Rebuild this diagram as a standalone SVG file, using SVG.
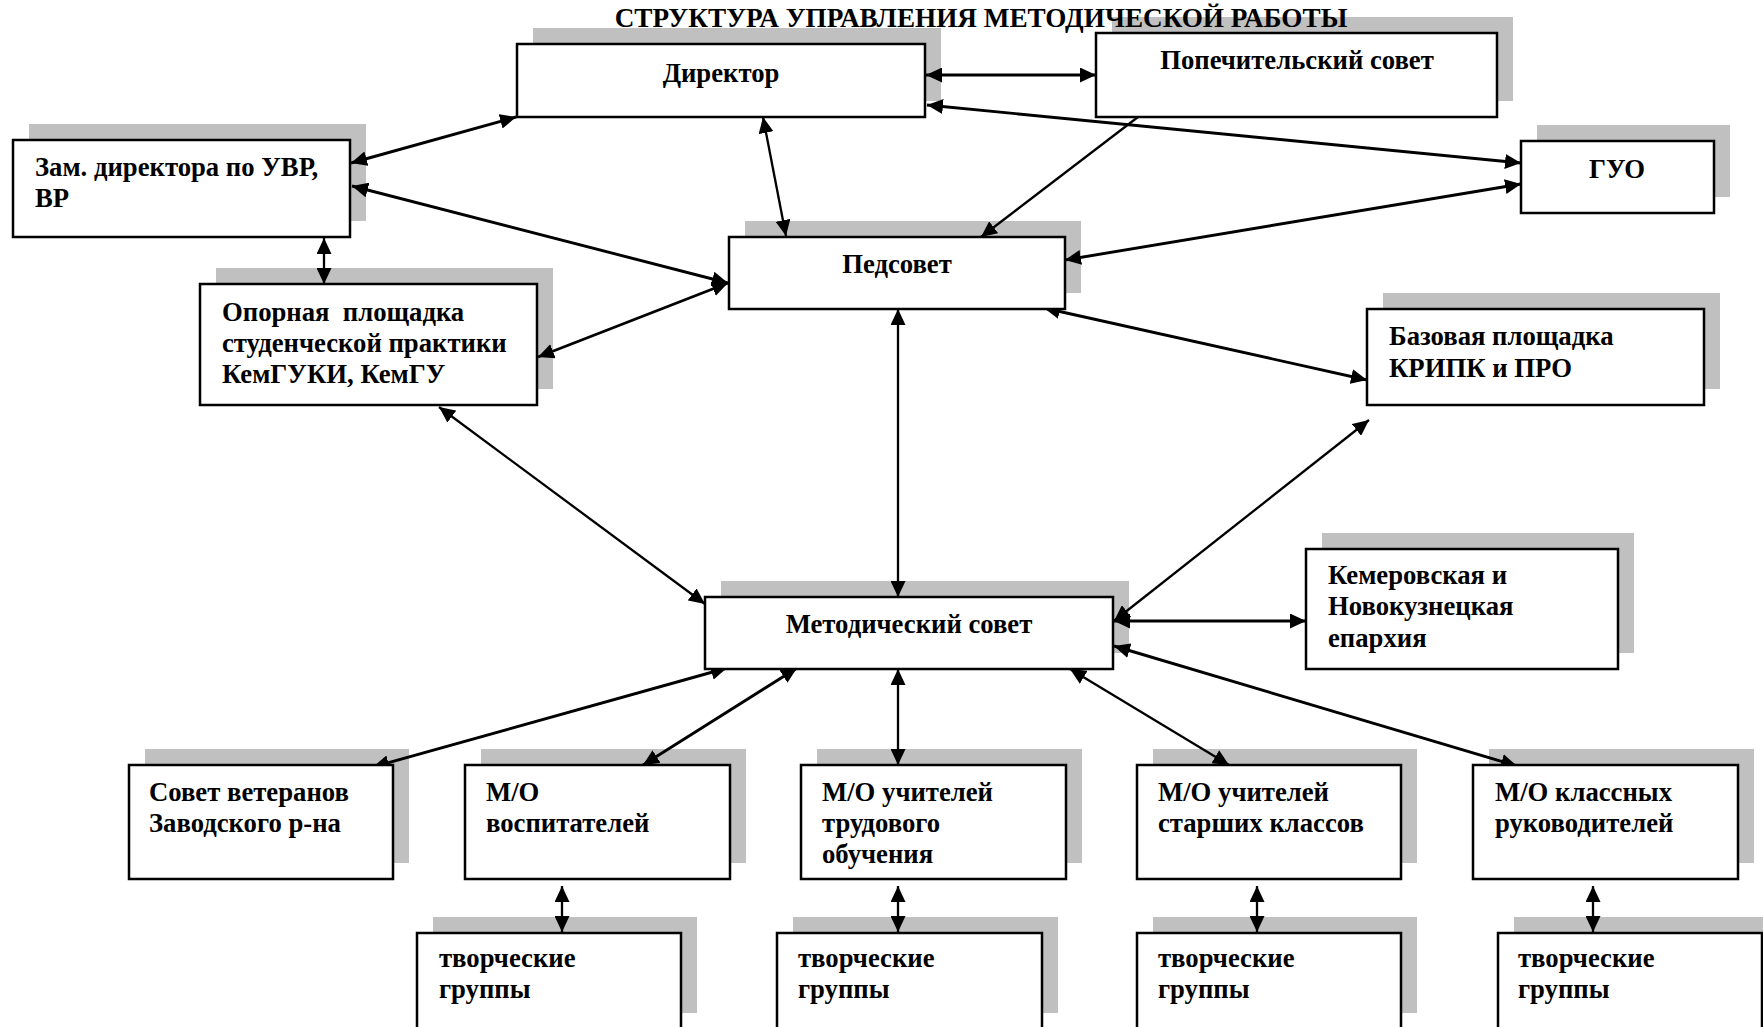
<svg xmlns="http://www.w3.org/2000/svg" width="1763" height="1027" viewBox="0 0 1763 1027">
<defs>
<marker id="ah" markerUnits="userSpaceOnUse" markerWidth="17" markerHeight="15" refX="16" refY="7.5" orient="auto-start-reverse" viewBox="0 0 17 15">
<path d="M0,0 L16,7.5 L0,15 z" fill="#000"/>
</marker>
<style>
.sh{fill:#c0c0c0;stroke:none}
.bx{fill:#fff;stroke:#000;stroke-width:2.5}
.t{font-family:"Liberation Serif","Times New Roman",serif;font-weight:bold;font-size:26.7px;fill:#000}
.c{text-anchor:middle}
.ln{stroke:#000;stroke-width:2.9;fill:none;marker-start:url(#ah);marker-end:url(#ah)}
.th{stroke-width:2.3}
.one{stroke:#000;stroke-width:2.3;fill:none;marker-end:url(#ah)}
</style>
</defs>
<rect width="1763" height="1027" fill="#fff"/>

<g id="shadows">
<rect class="sh" x="533" y="28" width="408" height="73"/>
<rect class="sh" x="1112" y="17" width="401" height="84"/>
<rect class="sh" x="1537" y="125" width="193" height="72"/>
<rect class="sh" x="29" y="124" width="337" height="97"/>
<rect class="sh" x="745" y="221" width="336" height="72"/>
<rect class="sh" x="216" y="268" width="337" height="121"/>
<rect class="sh" x="1383" y="293" width="337" height="96"/>
<rect class="sh" x="721" y="581" width="408" height="72"/>
<rect class="sh" x="1322" y="533" width="312" height="120"/>
<rect class="sh" x="145" y="749" width="264" height="114"/>
<rect class="sh" x="481" y="749" width="265" height="114"/>
<rect class="sh" x="817" y="749" width="265" height="114"/>
<rect class="sh" x="1153" y="749" width="264" height="114"/>
<rect class="sh" x="1489" y="749" width="265" height="114"/>
<rect class="sh" x="433" y="917" width="264" height="96"/>
<rect class="sh" x="793" y="917" width="265" height="96"/>
<rect class="sh" x="1153" y="917" width="264" height="96"/>
<rect class="sh" x="1514" y="917" width="264" height="96"/>
</g>

<g id="connectors">
<line class="ln" x1="351" y1="163" x2="516" y2="117"/>
<line class="ln" x1="352" y1="186" x2="728" y2="283"/>
<line class="ln th" x1="763" y1="117" x2="786" y2="236"/>
<line class="ln" x1="926" y1="75" x2="1096" y2="75"/>
<line class="ln" x1="927" y1="105" x2="1521" y2="163"/>
<line class="one" x1="1138" y1="117" x2="981" y2="237"/>
<line class="ln" x1="1065" y1="260" x2="1521" y2="184"/>
<line class="ln th" x1="324" y1="238" x2="324" y2="284"/>
<line class="ln" x1="538" y1="357" x2="728" y2="283"/>
<line class="ln th" x1="439" y1="407" x2="705" y2="604"/>
<line class="ln th" x1="898" y1="309" x2="898" y2="597"/>
<line class="ln" x1="1044" y1="308" x2="1367" y2="380"/>
<line class="ln th" x1="1114" y1="621" x2="1369" y2="420"/>
<line class="ln" x1="1114" y1="621" x2="1306" y2="621"/>
<line class="ln" x1="1114" y1="646" x2="1517" y2="766"/>
<line class="ln th" x1="1070" y1="669" x2="1229" y2="765"/>
<line class="ln th" x1="898" y1="669" x2="898" y2="765"/>
<line class="ln" x1="797" y1="668" x2="643" y2="765"/>
<line class="ln" x1="727" y1="668" x2="373" y2="767"/>
<line class="ln th" x1="562" y1="886" x2="562" y2="932"/>
<line class="ln th" x1="898" y1="886" x2="898" y2="932"/>
<line class="ln th" x1="1257" y1="886" x2="1257" y2="932"/>
<line class="ln th" x1="1593" y1="886" x2="1593" y2="932"/>
</g>

<g id="director"><rect class="bx" x="517" y="44" width="408" height="73"/><text class="t c" x="721" y="82">Директор</text></g>
<g id="popechitelsky"><rect class="bx" x="1096" y="33" width="401" height="84"/><text class="t c" x="1297" y="69">Попечительский совет</text></g>
<g id="guo"><rect class="bx" x="1521" y="141" width="193" height="72"/><text class="t c" x="1617" y="178">ГУО</text></g>
<g id="zam"><rect class="bx" x="13" y="140" width="337" height="97"/><text class="t" x="35" y="176">Зам. директора по УВР,</text><text class="t" x="35" y="207">ВР</text></g>
<g id="pedsovet"><rect class="bx" x="729" y="237" width="336" height="72"/><text class="t c" x="897" y="273">Педсовет</text></g>
<g id="opornaya"><rect class="bx" x="200" y="284" width="337" height="121"/><text class="t" x="222" y="321" xml:space="preserve">Опорная  площадка</text><text class="t" x="222" y="352">студенческой практики</text><text class="t" x="222" y="383">КемГУКИ, КемГУ</text></g>
<g id="bazovaya"><rect class="bx" x="1367" y="309" width="337" height="96"/><text class="t" x="1389" y="345">Базовая площадка</text><text class="t" x="1389" y="377">КРИПК и ПРО</text></g>
<g id="metodsovet"><rect class="bx" x="705" y="597" width="408" height="72"/><text class="t c" x="909" y="633">Методический совет</text></g>
<g id="eparhiya"><rect class="bx" x="1306" y="549" width="312" height="120"/><text class="t" x="1328" y="584">Кемеровская и</text><text class="t" x="1328" y="615">Новокузнецкая</text><text class="t" x="1328" y="647">епархия</text></g>
<g id="veterany"><rect class="bx" x="129" y="765" width="264" height="114"/><text class="t" x="149" y="801">Совет ветеранов</text><text class="t" x="149" y="832">Заводского р-на</text></g>
<g id="mo-vospit"><rect class="bx" x="465" y="765" width="265" height="114"/><text class="t" x="486" y="801">М/О</text><text class="t" x="486" y="832">воспитателей</text></g>
<g id="mo-trud"><rect class="bx" x="801" y="765" width="265" height="114"/><text class="t" x="822" y="801">М/О учителей</text><text class="t" x="822" y="832">трудового</text><text class="t" x="822" y="863">обучения</text></g>
<g id="mo-starsh"><rect class="bx" x="1137" y="765" width="264" height="114"/><text class="t" x="1158" y="801">М/О учителей</text><text class="t" x="1158" y="832">старших классов</text></g>
<g id="mo-klass"><rect class="bx" x="1473" y="765" width="265" height="114"/><text class="t" x="1495" y="801">М/О классных</text><text class="t" x="1495" y="832">руководителей</text></g>
<g id="tg1"><rect class="bx" x="417" y="933" width="264" height="100"/><text class="t" x="439" y="967">творческие</text><text class="t" x="439" y="998">группы</text></g>
<g id="tg2"><rect class="bx" x="777" y="933" width="265" height="100"/><text class="t" x="798" y="967">творческие</text><text class="t" x="798" y="998">группы</text></g>
<g id="tg3"><rect class="bx" x="1137" y="933" width="264" height="100"/><text class="t" x="1158" y="967">творческие</text><text class="t" x="1158" y="998">группы</text></g>
<g id="tg4"><rect class="bx" x="1498" y="933" width="264" height="100"/><text class="t" x="1518" y="967">творческие</text><text class="t" x="1518" y="998">группы</text></g>

<text id="title" class="t c" x="981" y="27" style="font-size:27.2px">СТРУКТУРА УПРАВЛЕНИЯ МЕТОДИЧЕСКОЙ РАБОТЫ</text>
</svg>
